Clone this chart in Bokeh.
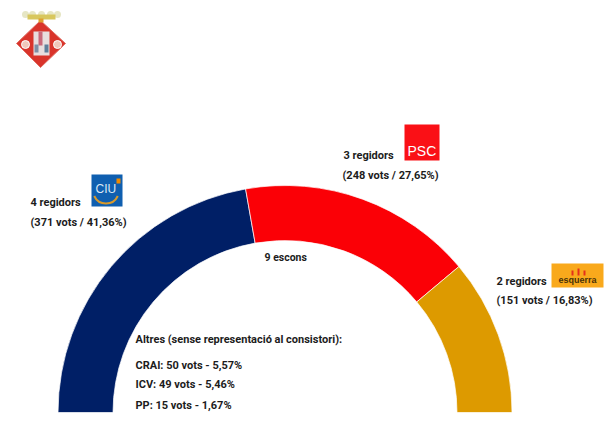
from bokeh.plotting import figure
from bokeh.models import Range1d
from bokeh.core.properties import value
from bokeh.embed import file_html
from bokeh.resources import INLINE
import numpy as np

parties = ["CiU", "PSC", "ERC"]
seats = [4, 3, 2]
colors = ["#001f66", "#fb0006", "#dd9a00"]

FONT = "Roboto"
W, H = 609, 427


def Y(py):
    return H - py


p = figure(width=W, height=H, output_backend="svg", toolbar_location=None,
           x_range=Range1d(0, W), y_range=Range1d(0, H),
           min_border=0, outline_line_color=None)
p.axis.visible = False
p.grid.visible = False
p.background_fill_color = "white"
p.border_fill_color = "white"

# semicircle
total = sum(seats)
ends = np.cumsum(seats)
starts = ends - np.array(seats)
p.annular_wedge(x=[284.5] * 3, y=[Y(412)] * 3, inner_radius=172, outer_radius=227,
                start_angle=[np.pi * (1 - e / total) for e in ends],
                end_angle=[np.pi * (1 - s / total) for s in starts],
                fill_color=colors, line_color="#ffffff", line_width=0.7)


def txt(x, y, s, size=11, color="#1c1c1c", align="left", bold=True, font=FONT):
    p.text(x=[x], y=[Y(y)], text=[s], text_font=value(font),
           text_font_size=f"{size}px", text_color=color, text_align=align,
           text_baseline="middle", text_font_style="bold" if bold else "normal")


txt(30, 202, "4 regidors")
txt(30, 222, "(371 vots / 41,36%)")
txt(343, 155, "3 regidors")
txt(342, 175, "(248 vots / 27,65%)")
txt(496, 281, "2 regidors")
txt(496, 300, "(151 vots / 16,83%)")
txt(264, 257, "9 escons", size=10.5)
txt(135, 339, "Altres (sense representació al consistori):")
txt(135, 365, "CRAI: 50 vots - 5,57%")
txt(135, 384, "ICV: 49 vots - 5,46%")
txt(135, 405, "PP: 15 vots - 1,67%")


def box(x0, y0, x1, y1, color):
    p.quad(left=[x0], right=[x1], top=[Y(y0)], bottom=[Y(y1)],
           fill_color=color, line_color=None)


# CiU logo
box(91, 174, 122, 206, "#0f5fb0")
txt(95, 188, "CIU", size=12, color="#dce8f5", bold=False, font="Liberation Sans")
p.arc(x=[105.5], y=[Y(190)], radius=13, start_angle=np.radians(205), end_angle=np.radians(335),
      line_color="#d99a2b", line_width=2)
box(116, 178, 120, 183, "#f08a00")

# PSC logo
box(404, 124, 439, 160, "#fa1016")
txt(407, 150, "PSC", size=14, color="#ffffff", bold=False, font="Liberation Sans")

# ERC logo
box(551, 263, 603, 287, "#f9a91c")
txt(577, 279, "esquerra", size=9, color="#4a3208", align="center", font="Liberation Sans")
box(571, 270, 573, 275, "#e5301c")
box(577, 268, 579, 275, "#e5301c")
box(583, 270, 585, 275, "#e5301c")

# crest
p.patch(x=[40, 65, 40, 16], y=[Y(20), Y(43), Y(67), Y(43)],
        fill_color="#d9342b", line_color="#e06a60", line_width=1)
box(33, 31, 49, 55, "#e8dede")
box(38, 31, 42, 45, "#c9687a")
box(44, 44, 48, 52, "#5f7f9a")
box(34, 44, 38, 52, "#7d8fa5")
p.scatter(x=[25, 57], y=[Y(44), Y(44)], size=8, marker="circle",
          fill_color="#f0c8bb", line_color="#ffffff")
p.scatter(x=[25, 32, 41, 50, 57], y=[Y(14)] * 5, size=7, marker="circle",
          fill_color="#e6e6c4", line_color=None)
box(27, 14, 55, 19, "#d8c75e")
box(38, 18, 43, 22, "#e0a030")

open("out.html", "w").write(file_html(p, INLINE))
